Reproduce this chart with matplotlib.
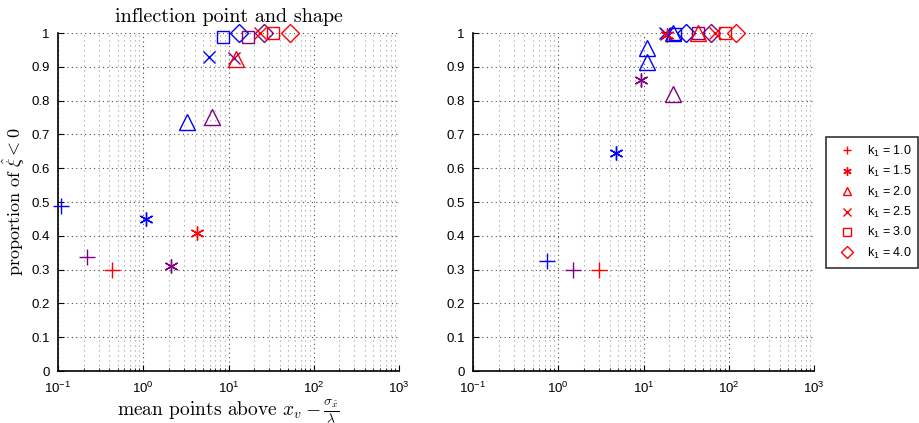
import matplotlib
matplotlib.use("Agg")
import matplotlib.pyplot as plt
from matplotlib.lines import Line2D
from matplotlib.ticker import FixedLocator, FuncFormatter, LogLocator
import numpy as np

plt.rcParams["font.family"] = ["Liberation Sans", "DejaVu Sans"]
plt.rcParams["mathtext.fontset"] = "custom"
plt.rcParams["mathtext.rm"] = "Liberation Sans"
plt.rcParams["mathtext.it"] = "Liberation Sans:italic"
plt.rcParams["axes.unicode_minus"] = False

# k1 values, one marker per k1
K1 = [1.0, 1.5, 2.0, 2.5, 3.0, 4.0]
MARKERS = ["+", (6, 2, 0), "^", "x", "s", "D"]
MSIZE = [11, 10, 12, 8, 9, 9]

BLUE = "#0000ff"
PURPLE = "#800080"
RED = "#ff0000"

# left panel
LEFT_BLUE_X = [0.108, 1.08, 3.23, 5.89, 8.53, 13.4]
LEFT_BLUE_Y = [0.487, 0.449, 0.737, 0.93, 0.987, 1.0]
LEFT_PURPLE_X = [0.217, 2.11, 6.34, 11.6, 17.0, 26.2]
LEFT_PURPLE_Y = [0.338, 0.31, 0.752, 0.925, 0.989, 1.0]
LEFT_RED_X = [0.427, 4.23, 12.4, 23.3, 33.4, 52.5]
LEFT_RED_Y = [0.30, 0.407, 0.923, 0.999, 1.0, 1.0]

# right panel
RIGHT_BLUE_X = [0.743, 4.71, 11.0, 17.8, 23.3, 31.4]
RIGHT_BLUE_Y = [0.326, 0.644, 0.957, 0.999, 0.998, 1.0]
RIGHT_PURPLE_X = [1.50, 9.33, 22.3, 18.5, 44.0, 61.7]
RIGHT_PURPLE_Y = [0.299, 0.861, 0.82, 0.998, 1.0, 1.0]
RIGHT_RED_X = [2.98, 18.7, 43.7, 68.5, 90.0, 123.0]
RIGHT_RED_Y = [0.30, 0.994, 1.0, 1.0, 1.0, 1.0]
RIGHT_EXTRA_TRI_X = [11.0, 22.3]
RIGHT_EXTRA_TRI_Y = [0.915, 1.0]

W, H = 919, 423
fig = plt.figure(figsize=(W / 100, H / 100), dpi=100)
ax1 = fig.add_axes([58 / W, 1 - 371 / H, 341 / W, 338 / H])
ax2 = fig.add_axes([473 / W, 1 - 371 / H, 341 / W, 338 / H])


def draw(ax, xs, ys, color):
    for x, y, m, ms in zip(xs, ys, MARKERS, MSIZE):
        ax.plot([x], [y], ls="none", marker=m, ms=ms, mec=color, mfc="none",
                mew=1.0, clip_on=False, zorder=3)


def style(ax):
    ax.set_xscale("log")
    ax.set_xlim(0.1, 1000)
    ax.set_ylim(0, 1)
    ax.yaxis.set_major_locator(FixedLocator(np.arange(0, 1.01, 0.1)))
    ax.yaxis.set_major_formatter(FuncFormatter(lambda v, p: f"{v:g}"))
    ax.xaxis.set_minor_locator(LogLocator(base=10, subs=np.arange(2, 10)))
    ax.grid(True, which="major", ls=(0, (1, 3)), color="0.3", lw=0.8)
    ax.grid(True, which="minor", axis="x", ls=(0, (1, 3.5)), color="0.6", lw=0.8)
    ax.spines["top"].set_visible(False)
    ax.spines["right"].set_visible(False)
    ax.spines["left"].set_linewidth(1.2)
    ax.spines["bottom"].set_linewidth(1.2)
    ax.tick_params(which="both", direction="in", labelsize=9.5, top=False, right=False)
    ax.tick_params(which="major", length=4)
    ax.tick_params(which="minor", length=2)
    ax.tick_params(axis="x", which="major", pad=7)
    ax.tick_params(axis="y", which="major", pad=6)
    ax.set_axisbelow(True)


draw(ax1, LEFT_BLUE_X, LEFT_BLUE_Y, BLUE)
draw(ax1, LEFT_PURPLE_X, LEFT_PURPLE_Y, PURPLE)
draw(ax1, LEFT_RED_X, LEFT_RED_Y, RED)

draw(ax2, RIGHT_BLUE_X, RIGHT_BLUE_Y, BLUE)
draw(ax2, RIGHT_PURPLE_X, RIGHT_PURPLE_Y, PURPLE)
draw(ax2, RIGHT_RED_X, RIGHT_RED_Y, RED)
ax2.plot(RIGHT_EXTRA_TRI_X, RIGHT_EXTRA_TRI_Y, ls="none", marker="^", ms=12,
         mec=BLUE, mfc="none", mew=1.0, clip_on=False, zorder=3)

style(ax1)
style(ax2)

ax1.set_title("inflection point and shape", fontsize=14.5, family="cmr10", pad=8)
ax1.set_ylabel(r"proportion of $\hat{\xi} < 0$", fontsize=13, family="cmr10",
               math_fontfamily="cm", labelpad=3)
ax1.set_xlabel(r"mean points above $x_v - \frac{\sigma_{\hat{x}}}{\lambda}$",
               fontsize=14, family="cmr10", math_fontfamily="cm", labelpad=0)

handles = [Line2D([], [], ls="none", marker=m, ms=6, mec=RED, mfc="none", mew=1.0)
           for m in MARKERS]
labels = [f"k$_1$ = {k:.1f}" for k in K1]
leg = fig.legend(handles, labels, loc="upper left", bbox_to_anchor=(826 / W, 1 - 137 / H),
                 fontsize=9, frameon=True, fancybox=False, edgecolor="k",
                 handlelength=2.2, handletextpad=0.5, labelspacing=0.42,
                 borderpad=0.55, borderaxespad=0)
leg.get_frame().set_linewidth(1.2)

fig.savefig("out.png", dpi=100)
